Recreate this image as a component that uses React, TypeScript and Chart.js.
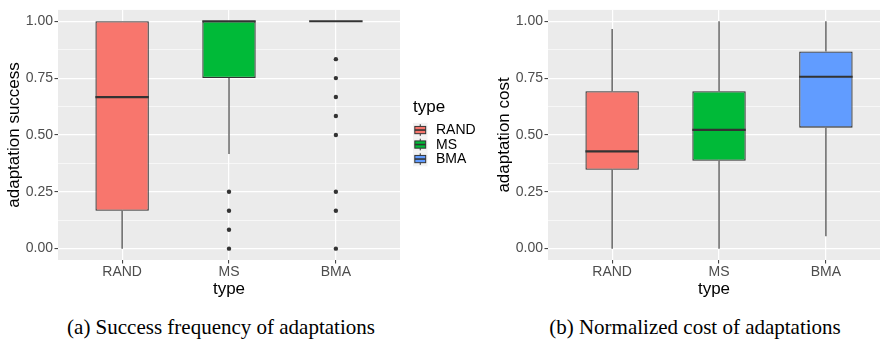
import React, { useEffect, useRef } from 'react';
import { Chart, registerables } from 'chart.js';

Chart.register(...registerables);

const categories = ['RAND', 'MS', 'BMA'];
const fillColors = ['#F8766D', '#00BA38', '#619CFF'];

const majorTicks = [0, 0.25, 0.5, 0.75, 1];
const minorTicks = [0.125, 0.375, 0.625, 0.875];

// Success frequency of adaptations
const successLow = [0, 0.4167, 1];
const successQ1 = [0.1667, 0.75, 1];
const successMedian = [0.6667, 1, 1];
const successQ3 = [1, 1, 1];
const successHigh = [1, 1, 1];
const successOutliers = [
  [],
  [0.25, 0.1667, 0.0833, 0],
  [0.8333, 0.75, 0.6667, 0.5833, 0.5, 0.25, 0.1667, 0],
];

// Normalized cost of adaptations
const costLow = [0, 0, 0.054];
const costQ1 = [0.347, 0.386, 0.532];
const costMedian = [0.428, 0.522, 0.756];
const costQ3 = [0.692, 0.692, 0.867];
const costHigh = [0.966, 1, 1];
const costOutliers = [[], [], []];

const FONT = '"Liberation Sans", Arial, sans-serif';
Chart.defaults.font.family = FONT;

type BoxStats = {
  low: number[];
  q1: number[];
  median: number[];
  q3: number[];
  high: number[];
  outliers: number[][];
};

const isMajor = (v: number) => majorTicks.some((m) => Math.abs(m - v) < 1e-9);

function whiskerPlugin(stats: BoxStats) {
  return {
    id: 'boxWhiskers',
    beforeDatasetsDraw(chart: any) {
      const { ctx, scales } = chart;
      const x = scales.x;
      const y = scales.y;
      ctx.save();
      ctx.strokeStyle = '#333333';
      ctx.lineWidth = 1.1;
      categories.forEach((_, i) => {
        const px = x.getPixelForValue(i + 1);
        ctx.beginPath();
        ctx.moveTo(px, y.getPixelForValue(stats.q3[i]));
        ctx.lineTo(px, y.getPixelForValue(stats.high[i]));
        ctx.moveTo(px, y.getPixelForValue(stats.q1[i]));
        ctx.lineTo(px, y.getPixelForValue(stats.low[i]));
        ctx.stroke();
      });
      ctx.restore();
    },
    afterDatasetsDraw(chart: any) {
      const { ctx, scales } = chart;
      const y = scales.y;
      const meta = chart.getDatasetMeta(0);
      ctx.save();
      ctx.strokeStyle = '#333333';
      ctx.lineWidth = 2.2;
      meta.data.forEach((bar: any, i: number) => {
        const { x: bx, width } = bar.getProps(['x', 'width'], true);
        const py = y.getPixelForValue(stats.median[i]);
        ctx.beginPath();
        ctx.moveTo(bx - width / 2, py);
        ctx.lineTo(bx + width / 2, py);
        ctx.stroke();
      });
      ctx.restore();
    },
  };
}

const panelBackground = {
  id: 'panelBackground',
  beforeDraw(chart: any) {
    const { ctx, chartArea } = chart;
    ctx.save();
    ctx.fillStyle = '#EBEBEB';
    ctx.fillRect(chartArea.left, chartArea.top, chartArea.right - chartArea.left, chartArea.bottom - chartArea.top);
    ctx.restore();
  },
};

const typeLegend = {
  id: 'typeLegend',
  afterDraw(chart: any) {
    const ctx = chart.ctx;
    const kx = 413;
    const k = 14.5;
    ctx.save();
    ctx.fillStyle = '#000000';
    ctx.font = `17px ${FONT}`;
    ctx.textAlign = 'left';
    ctx.textBaseline = 'alphabetic';
    ctx.fillText('type', kx, 112);
    categories.forEach((label, i) => {
      const ky = 122.8 + i * k;
      const cx = kx + k / 2;
      ctx.fillStyle = '#F2F2F2';
      ctx.fillRect(kx, ky, k, k);
      ctx.strokeStyle = '#333333';
      ctx.lineWidth = 1;
      ctx.beginPath();
      ctx.moveTo(cx, ky + 0.1 * k);
      ctx.lineTo(cx, ky + 0.25 * k);
      ctx.moveTo(cx, ky + 0.75 * k);
      ctx.lineTo(cx, ky + 0.9 * k);
      ctx.stroke();
      ctx.fillStyle = fillColors[i];
      ctx.fillRect(kx + 0.125 * k, ky + 0.25 * k, 0.75 * k, 0.5 * k);
      ctx.strokeRect(kx + 0.125 * k, ky + 0.25 * k, 0.75 * k, 0.5 * k);
      ctx.lineWidth = 1.6;
      ctx.beginPath();
      ctx.moveTo(kx + 0.125 * k, ky + 0.5 * k);
      ctx.lineTo(kx + 0.875 * k, ky + 0.5 * k);
      ctx.stroke();
      ctx.fillStyle = '#000000';
      ctx.font = `14px ${FONT}`;
      ctx.textBaseline = 'middle';
      ctx.fillText(label, kx + 23, ky + k / 2 + 0.5);
    });
    ctx.restore();
  },
};

type PanelProps = {
  stats: BoxStats;
  yTitle: string;
  left: number;
  width: number;
  xMax: number;
  padRight: number;
  withLegend: boolean;
};

function BoxPanel({ stats, yTitle, left, width, xMax, padRight, withLegend }: PanelProps) {
  const ref = useRef<HTMLCanvasElement>(null);

  useEffect(() => {
    const canvas = ref.current;
    if (!canvas) return;
    const plugins: any[] = [panelBackground, whiskerPlugin(stats)];
    if (withLegend) plugins.push(typeLegend);

    const chart = new Chart(canvas, {
      type: 'bar',
      data: {
        datasets: [
          {
            type: 'bar',
            data: categories.map((_, i) => ({ x: i + 1, y: [stats.q1[i], stats.q3[i]] })) as any,
            backgroundColor: fillColors,
            borderColor: '#333333',
            borderWidth: 1.3,
            borderSkipped: false,
            barPercentage: 0.5,
            categoryPercentage: 1,
            order: 2,
          } as any,
          {
            type: 'scatter',
            data: stats.outliers.flatMap((vals, i) => vals.map((v) => ({ x: i + 1, y: v }))),
            pointRadius: 2.2,
            pointBackgroundColor: '#333333',
            pointBorderWidth: 0,
            order: 1,
          } as any,
        ],
      },
      options: {
        responsive: false,
        animation: false,
        devicePixelRatio: 1,
        events: [],
        layout: { padding: { top: 3.65, right: padRight, bottom: 0, left: 0 } },
        plugins: { legend: { display: false }, tooltip: { enabled: false } },
        scales: {
          x: {
            type: 'linear',
            min: 0.4,
            max: xMax,
            offset: false,
            afterFit: (s: any) => {
              s.height = 40;
            },
            afterBuildTicks: (s: any) => {
              s.ticks = categories.map((_, i) => ({ value: i + 1 }));
            },
            ticks: {
              callback: (v: any) => categories[Math.round(Number(v)) - 1] ?? '',
              color: '#4D4D4D',
              font: { size: 14, lineHeight: 1 },
              padding: 1.5,
              autoSkip: false,
              maxRotation: 0,
            },
            grid: {
              color: '#FFFFFF',
              lineWidth: 1.2,
              tickColor: '#333333',
              tickLength: 3.5,
              tickWidth: 1,
              offset: false,
            },
            border: { display: false },
            title: {
              display: true,
              text: 'type',
              color: '#000000',
              font: { size: 17 },
              padding: { top: 0, bottom: 0.5 },
            },
          } as any,
          y: {
            type: 'linear',
            min: -0.05,
            max: 1.05,
            afterFit: (s: any) => {
              s.width = 58;
            },
            afterBuildTicks: (s: any) => {
              s.ticks = [...majorTicks, ...minorTicks].sort((a, b) => a - b).map((v) => ({ value: v }));
            },
            ticks: {
              callback: (v: any) => (isMajor(Number(v)) ? Number(v).toFixed(2) : ''),
              color: '#4D4D4D',
              font: { size: 14 },
              padding: 1.5,
              autoSkip: false,
            },
            grid: {
              color: '#FFFFFF',
              lineWidth: (c: any) => (c.tick && isMajor(c.tick.value) ? 1.2 : 0.6),
              tickColor: (c: any) => (c.tick && isMajor(c.tick.value) ? '#333333' : 'rgba(0,0,0,0)'),
              tickLength: 3.5,
              tickWidth: 1,
            },
            border: { display: false },
            title: {
              display: true,
              text: yTitle,
              color: '#000000',
              font: { size: 17 },
              padding: { top: 4, bottom: 0 },
            },
          } as any,
        },
      },
      plugins,
    });
    return () => chart.destroy();
  }, []);

  return (
    <canvas
      ref={ref}
      width={width}
      height={300}
      style={{ position: 'absolute', left, top: 0, width, height: 300 }}
    />
  );
}

const successStats: BoxStats = {
  low: successLow,
  q1: successQ1,
  median: successMedian,
  q3: successQ3,
  high: successHigh,
  outliers: successOutliers,
};

const costStats: BoxStats = {
  low: costLow,
  q1: costQ1,
  median: costMedian,
  q3: costQ3,
  high: costHigh,
  outliers: costOutliers,
};

const captionStyle: React.CSSProperties = {
  position: 'absolute',
  top: 317,
  textAlign: 'center',
  font: '21px "Liberation Serif", serif',
  lineHeight: '21px',
  color: '#000000',
  whiteSpace: 'nowrap',
};

export default function App() {
  return (
    <div
      style={{
        position: 'absolute',
        left: 0,
        top: 0,
        width: 880,
        height: 349,
        background: '#FFFFFF',
        overflow: 'hidden',
      }}
    >
      <BoxPanel
        stats={successStats}
        yTitle="adaptation success"
        left={0}
        width={490}
        xMax={3.6}
        padRight={90}
        withLegend={true}
      />
      <BoxPanel
        stats={costStats}
        yTitle="adaptation cost"
        left={490}
        width={390}
        xMax={3.506}
        padRight={0}
        withLegend={false}
      />
      <div style={{ ...captionStyle, left: 0, width: 442 }}>(a) Success frequency of adaptations</div>
      <div style={{ ...captionStyle, left: 510, width: 370 }}>(b) Normalized cost of adaptations</div>
    </div>
  );
}
